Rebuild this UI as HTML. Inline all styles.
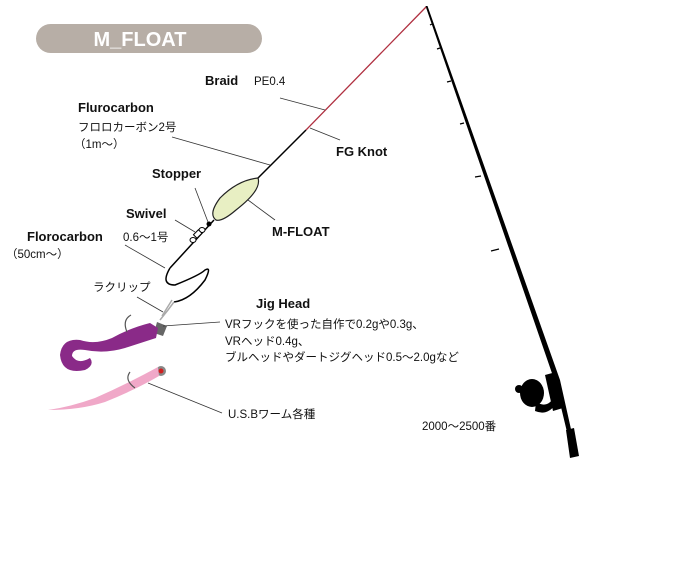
<!DOCTYPE html>
<html><head><meta charset="utf-8"><style>
body{margin:0;background:#fff}
svg{display:block}
text{font-family:"Liberation Sans","Noto Sans CJK JP",sans-serif;fill:#111}
.b{font-weight:bold;font-size:13px}
.n{font-size:11.5px}
</style></head><body>
<svg width="674" height="562" viewBox="0 0 674 562">
<rect x="36" y="24" width="226" height="29" rx="14.5" fill="#b7aea6"/>
<text x="140" y="46" text-anchor="middle" style="font-weight:bold;font-size:20px;fill:#fff">M_FLOAT</text>
<!-- rod -->
<polygon points="425.5,6 427.5,6 560,380 577,456 573,457 555,382" fill="#000"/>
<g stroke="#000" stroke-width="1.2">
<line x1="432" y1="24" x2="430" y2="25"/><line x1="440" y1="48" x2="437" y2="49"/>
<line x1="451" y1="81" x2="447" y2="82"/><line x1="464" y1="123" x2="460" y2="124"/>
<line x1="481" y1="176" x2="475" y2="177"/><line x1="499" y1="249" x2="491" y2="251"/>
</g>
<polygon points="545,375 556,372 563,408 553,411" fill="#000"/>
<polygon points="566,430 574,428 579,456 570,458" fill="#000"/>
<ellipse cx="532" cy="393" rx="12" ry="14" fill="#000"/>
<circle cx="519" cy="389" r="4" fill="#000"/>
<path d="M536,402 Q546,408 552,400 L555,405 Q547,416 535,411Z" fill="#000"/>
<!-- line -->
<line x1="426" y1="7" x2="306" y2="130" stroke="#b03040" stroke-width="1.3"/>
<line x1="306" y1="130" x2="258" y2="178" stroke="#000" stroke-width="1.5"/>
<path d="M258,178 Q262,190 236,210 Q222,222 216,220 Q208,214 220,198 Q238,180 258,178Z" fill="#e8efc3" stroke="#222" stroke-width="1.2"/>
<line x1="214" y1="220" x2="170" y2="268" stroke="#000" stroke-width="1.5"/>
<circle cx="209" cy="224" r="2.5" fill="#000"/>
<ellipse cx="202" cy="230" rx="3" ry="2.5" fill="#fff" stroke="#000"/>
<rect x="194" y="232" width="7" height="5" fill="#fff" stroke="#000" transform="rotate(-45 197 234)"/>
<ellipse cx="193" cy="240" rx="3" ry="2.5" fill="#fff" stroke="#000"/>
<path d="M170,268 Q160,285 175,285 Q200,275 205,270 Q212,266 205,280 Q190,300 174,302" fill="none" stroke="#000" stroke-width="1.5"/>
<path d="M174,302 L168,310 L160,320 M172,300 L162,316" fill="none" stroke="#aaa" stroke-width="1.5"/>
<!-- purple worm -->
<polygon points="157,322 167,326 163,336 154,333" fill="#666"/>
<path d="M158,328 L150,323 Q130,328 112,338 Q95,345 80,340 Q62,338 60,355 Q62,375 85,370 Q95,365 90,358 Q78,365 72,356 Q72,348 85,350 Q105,354 125,348 L156,338Z" fill="#8a2a88"/>
<path d="M127,332 Q122,320 131,315" fill="none" stroke="#555" stroke-width="1.2"/>
<!-- pink worm -->
<circle cx="161" cy="371" r="5" fill="#888"/><circle cx="161" cy="371" r="2.5" fill="#d02020"/>
<path d="M158,367 Q125,385 95,398 Q70,407 48,410 Q80,410 105,402 Q135,390 159,376Z" fill="#f0a8c8"/>
<path d="M135,388 Q124,380 130,372" fill="none" stroke="#555" stroke-width="1.2"/>
<!-- leaders -->
<g stroke="#333" stroke-width="0.8">
<line x1="280" y1="98" x2="325" y2="110"/>
<line x1="172" y1="137" x2="270" y2="165"/>
<line x1="310" y1="128" x2="340" y2="140"/>
<line x1="195" y1="188" x2="208" y2="222"/>
<line x1="248" y1="200" x2="275" y2="220"/>
<line x1="175" y1="220" x2="195" y2="232"/>
<line x1="125" y1="245" x2="165" y2="268"/>
<line x1="137" y1="297" x2="163" y2="312"/>
<line x1="163" y1="326" x2="220" y2="322"/>
<line x1="148" y1="383" x2="222" y2="413"/>
</g>
<text class="b" x="205" y="85">Braid</text><text class="n" x="254" y="85">PE0.4</text>
<text class="b" x="78" y="112">Flurocarbon</text>
<text class="n" x="78" y="131">フロロカーボン2号</text>
<text class="n" x="74" y="148">（1m～）</text>
<text class="b" x="336" y="156">FG Knot</text>
<text class="b" x="152" y="178">Stopper</text>
<text class="b" x="126" y="218">Swivel</text>
<text class="b" x="272" y="236">M-FLOAT</text>
<text class="b" x="27" y="241">Florocarbon</text><text class="n" x="123" y="241">0.6～1号</text>
<text class="n" x="6" y="258">（50cm～）</text>
<text class="n" x="93" y="291">ラクリップ</text>
<text class="b" x="256" y="308">Jig Head</text>
<text class="n" x="225" y="328">VRフックを使った自作で0.2gや0.3g、</text>
<text class="n" x="225" y="345">VRヘッド0.4g、</text>
<text class="n" x="225" y="361">ブルヘッドやダートジグヘッド0.5～2.0gなど</text>
<text class="n" x="228" y="418">U.S.Bワーム各種</text>
<text class="n" x="422" y="430">2000～2500番</text>
</svg>
</body></html>
